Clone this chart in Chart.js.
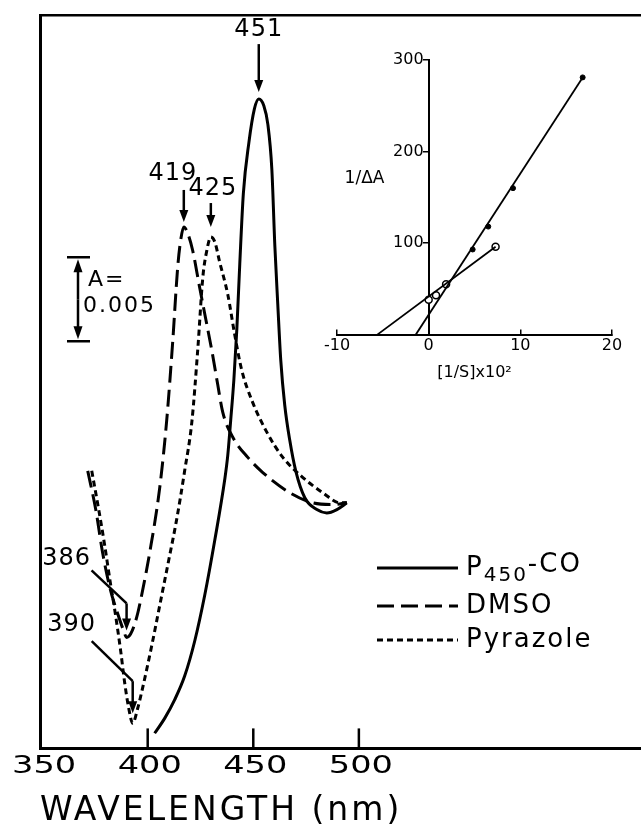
<!DOCTYPE html>
<html>
<head>
<meta charset="utf-8">
<script src="https://cdn.jsdelivr.net/npm/chart.js@4.4.1/dist/chart.umd.min.js"></script>
<style>
  body { margin: 0; background: #fff; }
  #wrap { position: relative; width: 641px; height: 831px; }
  #mainChart { position: absolute; left: 0; top: 0; }
  #insetChart { position: absolute; left: 300px; top: 40px; }
</style>
</head>
<body>
<div id="wrap">
  <canvas id="mainChart" width="641" height="831"></canvas>
  <canvas id="insetChart" width="335" height="345"></canvas>
</div>
<script>
// difference spectra: wavelength (nm) and absorbance in units of 0.001 A
var seriesLabels = ["P₄₅₀-CO", "DMSO", "Pyrazole"];
var coNm = [403.3, 408.1, 412.8, 417.5, 422.3, 427.0, 431.8, 436.5, 437.9, 439.3, 440.8, 442.2, 443.6, 445.3, 447.9, 450.5, 452.6, 455.0, 456.9, 458.8, 460.2, 461.6, 463.0, 464.9, 467.3, 470.1, 474.4, 480.1, 484.8, 489.6, 494.3];
var coMilliA = [0.9, 1.8, 2.9, 4.3, 6.4, 9.1, 12.4, 16.0, 17.4, 19.5, 21.9, 24.9, 28.8, 33.0, 36.0, 38.0, 38.6, 38.2, 37.1, 34.4, 29.9, 26.4, 23.1, 20.4, 18.3, 16.5, 14.9, 14.2, 14.0, 14.2, 14.6];
var dmsoNm = [371.6, 375.4, 378.7, 382.0, 385.8, 388.6, 390.0, 391.9, 394.8, 397.6, 400.9, 405.7, 409.0, 411.8, 414.2, 415.6, 417.1, 419.0, 421.3, 424.6, 428.0, 430.3, 433.2, 435.5, 440.3, 447.4, 454.5, 467.3, 478.2, 487.7, 494.3];
var dmsoMilliA = [16.5, 14.2, 11.6, 9.6, 8.0, 7.0, 6.6, 6.8, 7.8, 9.4, 11.6, 15.5, 19.5, 24.1, 28.6, 30.2, 31.0, 30.6, 29.6, 27.4, 25.2, 23.7, 21.6, 20.0, 18.5, 17.3, 16.4, 15.2, 14.6, 14.5, 14.6];
var pyrNm = [373.5, 376.8, 379.6, 382.0, 384.8, 387.2, 389.1, 391.0, 392.9, 395.3, 397.6, 401.9, 405.7, 409.5, 413.7, 417.5, 420.9, 423.7, 426.1, 428.0, 429.9, 431.8, 434.1, 437.9, 441.2, 444.5, 449.3, 456.4, 464.0, 473.5, 482.9, 491.0, 494.3];
var pyrMilliA = [16.5, 14.2, 12.1, 10.1, 7.9, 5.8, 3.9, 2.4, 1.5, 2.4, 3.6, 6.1, 8.5, 10.9, 13.6, 16.5, 19.4, 23.7, 28.0, 29.6, 30.4, 30.1, 28.9, 27.0, 24.6, 22.5, 20.7, 18.8, 17.3, 16.1, 15.2, 14.6, 14.6];
var peakLabels = ["451", "419", "425"];
var troughLabels = ["386", "390"]; // DMSO, Pyrazole
var xTicks = [350, 400, 450, 500];
var scaleBarMilliA = 5;       // A = 0.005
var scaleBarBase = 24.2;

// inset: double reciprocal plot
var filledS = [4.8, 6.5, 9.2, 16.8];
var filledInvA = [93, 118, 160, 281];
var openS = [0, 0.8, 1.9, 7.3];
var openInvA = [38, 43, 55, 96];
var filledLineS = [-1.4, 16.8];
var filledLineInvA = [0, 281];
var openLineS = [-5.6, 7.3];
var openLineInvA = [0, 96];
var insetTicksX = [-10, 0, 10, 20];
var insetTicksY = [100, 200, 300];

var FONT = "DejaVu Sans";

function pts(xs, ys) {
    return xs.map(function (x, i) { return { x: x, y: ys[i] }; });
}

function arrow(c, x1, y1, x2, y2, head) {
    var a = Math.atan2(y2 - y1, x2 - x1);
    c.beginPath();
    c.moveTo(x1, y1);
    c.lineTo(x2 - Math.cos(a) * head * 0.6, y2 - Math.sin(a) * head * 0.6);
    c.stroke();
    c.beginPath();
    c.moveTo(x2, y2);
    c.lineTo(x2 - Math.cos(a) * head + Math.sin(a) * 4.5, y2 - Math.sin(a) * head - Math.cos(a) * 4.5);
    c.lineTo(x2 - Math.cos(a) * head - Math.sin(a) * 4.5, y2 - Math.sin(a) * head + Math.cos(a) * 4.5);
    c.closePath();
    c.fill();
}

// legend label: subscript digits drawn lowered and smaller
function drawLabel(c, text, x, y) {
    var sub = "₀₁₂₃₄₅₆₇₈₉", after = false;
    for (var k = 0; k < text.length; k++) {
        var ch = text[k], si = sub.indexOf(ch);
        if (si >= 0) {
            c.font = "20px " + FONT;
            c.fillText(String(si), x, y + 8);
            x += c.measureText(String(si)).width;
            after = true;
        } else {
            c.font = "26px " + FONT;
            c.fillText(ch, x, after ? y - 3 : y);
            x += c.measureText(ch).width;
        }
    }
}

var marks = {
    id: "marks",
    beforeDraw: function (chart) { chart.ctx.letterSpacing = "3px"; },  // axis title
    afterDraw: function (chart) {
        var c = chart.ctx, xs = chart.scales.x, ys = chart.scales.y;
        c.save();
        c.fillStyle = "#000";
        c.strokeStyle = "#000";
        c.lineWidth = 2.5;
        c.textBaseline = "middle";
        c.letterSpacing = "0px";

        // x ticks (inward) and wide tick labels
        c.font = "24px " + FONT;
        c.textAlign = "center";
        xTicks.forEach(function (v, i) {
            var px = xs.getPixelForValue(v);
            if (i > 0) {
                c.beginPath();
                c.moveTo(px, xs.top);
                c.lineTo(px, xs.top - 20);
                c.stroke();
            }
            c.save();
            c.translate(px + 2, xs.top + 18);
            c.scale(1.4, 1);
            c.fillText(String(v), 0, 0);
            c.restore();
        });

        // peak arrows
        c.letterSpacing = "1px";
        var peakStyle = [
            { len: 48, gap: 7, dx: 0, ty: 69 },
            { len: 32, gap: 5, dx: -11, ty: 53 },
            { len: 24, gap: 10, dx: 2, ty: 48 }
        ];
        chart.data.datasets.forEach(function (ds, i) {
            var el = chart.getDatasetMeta(i).data;
            var top = el.reduce(function (a, b) { return b.y < a.y ? b : a; });
            var s = peakStyle[i];
            arrow(c, top.x, top.y - s.gap - s.len, top.x, top.y - s.gap, 12);
            c.fillText(peakLabels[i], top.x + s.dx, top.y - s.ty);
        });

        // trough leaders (DMSO, Pyrazole)
        var troughStyle = [
            { sx: -35, sy: -67, ey: -34, gap: 7, tx: -60, ty: -79 },
            { sx: -41, sy: -82, ey: -42, gap: 10, tx: -61, ty: -98 }
        ];
        [1, 2].forEach(function (di, k) {
            var el = chart.getDatasetMeta(di).data;
            var low = el.reduce(function (a, b) { return b.y > a.y ? b : a; });
            var s = troughStyle[k];
            c.beginPath();
            c.moveTo(low.x + s.sx, low.y + s.sy);
            c.lineTo(low.x, low.y + s.ey);
            c.stroke();
            arrow(c, low.x, low.y + s.ey, low.x, low.y - s.gap, 12);
            c.fillText(troughLabels[k], low.x + s.tx, low.y + s.ty);
        });

        // absorbance scale bar
        var bx = 78;
        var yTop = ys.getPixelForValue(scaleBarBase + scaleBarMilliA);
        var yBot = ys.getPixelForValue(scaleBarBase);
        c.beginPath();
        c.moveTo(bx - 11, yTop); c.lineTo(bx + 12, yTop);
        c.moveTo(bx - 11, yBot); c.lineTo(bx + 12, yBot);
        c.stroke();
        var mid = (yTop + yBot) / 2;
        arrow(c, bx, mid, bx, yTop + 2, 13);
        arrow(c, bx, mid, bx, yBot - 2, 13);
        c.font = "22px " + FONT;
        c.letterSpacing = "2px";
        c.textAlign = "left";
        c.fillText("A=", bx + 10, yTop + 23);
        c.fillText((scaleBarMilliA / 1000).toFixed(3), bx + 5, yTop + 49);

        // legend
        var rows = [568, 606, 640];
        chart.data.datasets.forEach(function (ds, i) {
            c.save();
            c.lineWidth = ds.borderWidth;
            c.setLineDash(ds.borderDash);
            c.beginPath();
            c.moveTo(377, rows[i]);
            c.lineTo(458, rows[i]);
            c.stroke();
            c.restore();
            drawLabel(c, ds.label, 466, rows[i]);
        });
        c.restore();
        c.letterSpacing = "0px";
    }
};

var mainCtx = document.getElementById("mainChart").getContext("2d");
new Chart(mainCtx, {
    type: "line",
    data: {
        datasets: [
            { label: seriesLabels[0], data: pts(coNm, coMilliA), borderDash: [] },
            { label: seriesLabels[1], data: pts(dmsoNm, dmsoMilliA), borderDash: [17, 7] },
            { label: seriesLabels[2], data: pts(pyrNm, pyrMilliA), borderDash: [6, 4] }
        ].map(function (d) {
            d.borderColor = "#000";
            d.borderWidth = 3;
            d.pointRadius = 0;
            d.pointHoverRadius = 0;
            d.fill = false;
            d.cubicInterpolationMode = "monotone";
            return d;
        })
    },
    options: {
        responsive: false,
        animation: false,
        devicePixelRatio: 1,
        layout: { padding: { left: 40, top: 15, right: 0, bottom: 0 } },
        plugins: { legend: { display: false }, tooltip: { enabled: false } },
        scales: {
            x: {
                type: "linear",
                min: 349,
                max: 633.6,
                grid: { display: false, drawTicks: false },
                border: { display: true, width: 3, color: "#000" },
                ticks: { display: false },
                title: {
                    display: true, text: "WAVELENGTH (nm)", align: "start", color: "#000",
                    font: { family: FONT, size: 33 }, padding: { top: 43, bottom: 0 }
                }
            },
            xTop: {
                type: "linear",
                position: "top",
                min: 349,
                max: 633.6,
                grid: { display: false, drawTicks: false },
                ticks: { display: false },
                border: { display: true, width: 2.5, color: "#000" }
            },
            y: {
                min: 0,
                max: 43.6,
                grid: { display: false, drawTicks: false },
                ticks: { display: false },
                border: { display: true, width: 3, color: "#000" }
            }
        }
    },
    plugins: [marks]
});

var insetCtx = document.getElementById("insetChart").getContext("2d");
new Chart(insetCtx, {
    type: "scatter",
    data: {
        datasets: [
            { data: pts(filledLineS, filledLineInvA), showLine: true, borderColor: "#000", borderWidth: 1.8, pointRadius: 0 },
            { data: pts(openLineS, openLineInvA), showLine: true, borderColor: "#000", borderWidth: 1.8, pointRadius: 0 },
            { data: pts(filledS, filledInvA), pointRadius: 2.5, pointBackgroundColor: "#000", pointBorderColor: "#000" },
            { data: pts(openS, openInvA), pointRadius: 3.5, pointBackgroundColor: "#fff", pointBorderColor: "#000", pointBorderWidth: 1.5 }
        ]
    },
    options: {
        responsive: false,
        animation: false,
        devicePixelRatio: 1,
        layout: { padding: { left: 37, top: 20, right: 23, bottom: 0 } },
        plugins: { legend: { display: false }, tooltip: { enabled: false } },
        scales: {
            x: {
                type: "linear",
                min: -10,
                max: 20,
                afterBuildTicks: function (s) {
                    s.ticks = insetTicksX.map(function (v) { return { value: v }; });
                },
                grid: { drawOnChartArea: false, tickLength: -5, lineWidth: 1.5, color: "#000" },
                border: { width: 2, color: "#000" },
                ticks: { padding: 7, color: "#000", font: { family: FONT, size: 16 } },
                title: {
                    display: true, text: "[1/S]x10²", color: "#000",
                    font: { family: FONT, size: 16 }, padding: { top: 0, bottom: 3 }
                }
            },
            y: {
                type: "linear",
                min: 0,
                max: 300,
                position: { x: 0 },
                afterBuildTicks: function (s) {
                    s.ticks = insetTicksY.map(function (v) { return { value: v }; });
                },
                grid: { drawOnChartArea: false, tickLength: 5, lineWidth: 1.5, color: "#000" },
                border: { width: 2, color: "#000" },
                ticks: {
                    padding: 7, color: "#000", font: { family: FONT, size: 16 },
                    callback: function (v) { return v + " "; }
                }
            }
        }
    },
    plugins: [{
        id: "insetLabel",
        afterDraw: function (chart) {
            var c = chart.ctx;
            c.save();
            c.fillStyle = "#000";
            c.font = "17px " + FONT;
            c.textAlign = "center";
            c.textBaseline = "middle";
            c.fillText("1/ΔA", chart.scales.x.getPixelForValue(-7), chart.scales.y.getPixelForValue(170));
            c.restore();
        }
    }]
});
</script>
</body>
</html>
